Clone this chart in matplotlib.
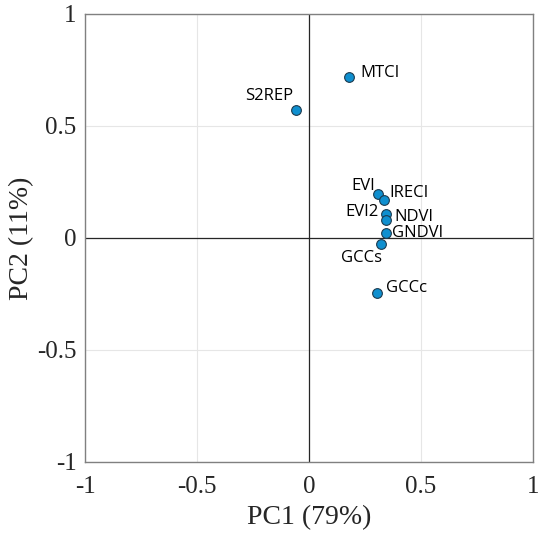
import numpy as np
import matplotlib
matplotlib.use('Agg')
import matplotlib.pyplot as plt

# PCA loadings
names = ['MTCI', 'S2REP', 'EVI', 'IRECI', 'EVI2', 'NDVI', 'GNDVI', 'GCCs', 'GCCc']
pc1 = [0.18, -0.058, 0.31, 0.335, 0.344, 0.344, 0.342, 0.32, 0.302]
pc2 = [0.72, 0.571, 0.195, 0.17, 0.106, 0.08, 0.024, -0.028, -0.247]

ticks = [-1, -0.5, 0, 0.5, 1]
tick_labels = ['-1', '-0.5', '0', '0.5', '1']

# label offsets in pixels and alignment for each point
label_pos = {
    'MTCI':  (11, 4, 'left', 'center'),
    'S2REP': (-3, 14, 'right', 'center'),
    'EVI':   (-3, 8, 'right', 'center'),
    'IRECI': (5, 7, 'left', 'center'),
    'EVI2':  (-7, 2, 'right', 'center'),
    'NDVI':  (8, 3, 'left', 'center'),
    'GNDVI': (6, 0, 'left', 'center'),
    'GCCs':  (-19, -14, 'center', 'center'),
    'GCCc':  (9, 5, 'left', 'center'),
}

fig = plt.figure(figsize=(5.5, 5.42), dpi=100, facecolor='white')
ax = fig.add_axes([85/550, 80/542, 448/550, 448/542])

ax.grid(True, color='#e6e6e6', linewidth=0.8)
ax.set_axisbelow(True)
ax.axhline(0, color='#262626', linewidth=0.9, zorder=1)
ax.axvline(0, color='#262626', linewidth=0.9, zorder=1)

ax.plot(pc1, pc2, 'o', markersize=7, markerfacecolor='#0f8fcf',
        markeredgecolor='#1c3a4e', markeredgewidth=0.8, zorder=3)

for n, x, y in zip(names, pc1, pc2):
    dx, dy, ha, va = label_pos[n]
    ax.annotate(n, (x, y), xytext=(dx, dy), textcoords='offset pixels',
                ha=ha, va=va, fontsize=12, family='Open Sans', color='black')

ax.set_xlim(-1, 1)
ax.set_ylim(-1, 1)
ax.set_xticks(ticks)
ax.set_yticks(ticks)
ax.set_xticklabels(tick_labels, family='Liberation Serif', fontsize=18, color='#262626')
ax.set_yticklabels(tick_labels, family='Liberation Serif', fontsize=18, color='#262626')
ax.tick_params(length=0)
ax.tick_params(axis='x', pad=10)
ax.tick_params(axis='y', pad=6)
for s in ax.spines.values():
    s.set_color('#808080')
    s.set_linewidth(1.0)

ax.set_xlabel('PC1 (79%)', family='Liberation Serif', fontsize=20, color='#262626', labelpad=5)
ax.set_ylabel('PC2 (11%)', family='Liberation Serif', fontsize=20, color='#262626', labelpad=2.5)

plt.savefig('out.png', dpi=100)
plt.close()
